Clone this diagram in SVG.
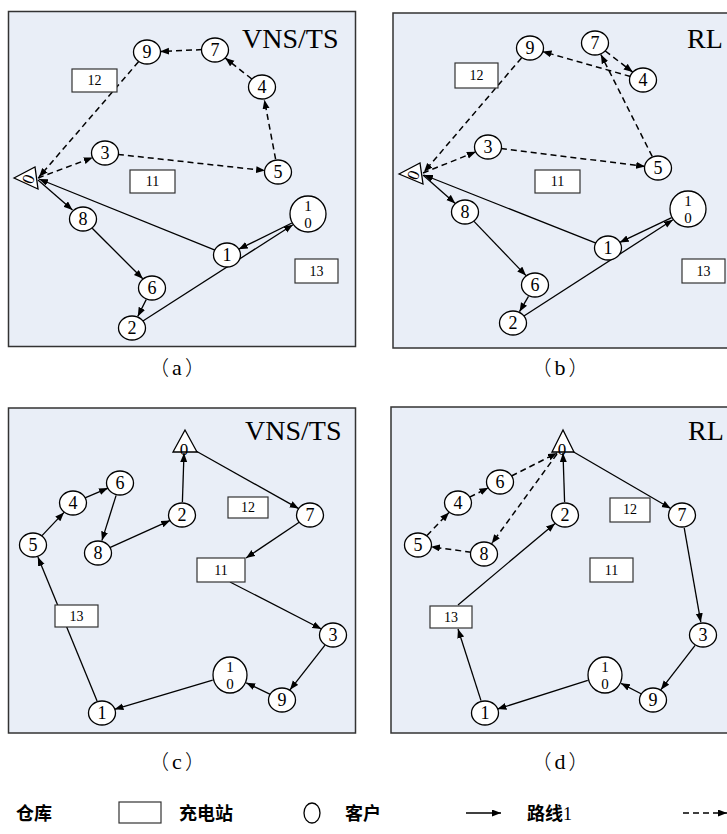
<svg xmlns="http://www.w3.org/2000/svg" width="727" height="834" viewBox="0 0 727 834">
<style>
.frame{fill:#E9EEF7;stroke:#333;stroke-width:1.5}
.nd{fill:#fff;stroke:#000;stroke-width:1.3}
.bx{fill:#fff;stroke:#333;stroke-width:1.2}
.lbl{font-family:"Liberation Serif",serif;font-size:18px;text-anchor:middle;fill:#000}
.l10{font-family:"Liberation Serif",serif;font-size:15px;text-anchor:middle;fill:#000}
.dep{font-family:"Liberation Serif",serif;font-size:17px;text-anchor:middle;fill:#000}
.blbl{font-family:"Liberation Serif",serif;font-size:14px;text-anchor:middle;fill:#000}
.ttl{font-family:"Liberation Serif",serif;font-size:28px;fill:#000}
.cap{font-family:"Liberation Serif",serif;font-size:22px;text-anchor:middle;fill:#000}
.par{font-family:"Noto Sans CJK SC","Noto Sans CJK JP",sans-serif;font-weight:300;font-size:20px}
.leg{font-family:"Noto Sans CJK SC",sans-serif;font-size:18px;font-weight:700;fill:#000}
.sol{stroke:#000;stroke-width:1.3;fill:none;marker-end:url(#ah)}
.dsh{stroke:#000;stroke-width:1.5;stroke-dasharray:6 4;fill:none;marker-end:url(#ah)}
</style>
<defs>
<marker id="ah" markerUnits="userSpaceOnUse" markerWidth="10" markerHeight="8" refX="9" refY="3.5" orient="auto"><path d="M0,0 L9,3.5 L0,7 z" fill="#000"/></marker>
</defs>

<!-- frames -->
<g id="frames">
<rect class="frame" x="8.5" y="11.5" width="347" height="335"/>
<rect class="frame" x="393" y="13" width="360" height="335"/>
<rect class="frame" x="8.5" y="408" width="347" height="325"/>
<rect class="frame" x="391" y="407" width="360" height="326"/>
</g>

<!-- connectors -->
<g id="connectors">
<!-- panel a -->
<path class="dsh" d="M38,178 L92.8,157.5"/>
<path class="dsh" d="M117.9,154.4 L265.1,170.6"/>
<path class="dsh" d="M275.6,159.2 L264.4,99.8"/>
<path class="dsh" d="M251.8,79 L225.2,58"/>
<path class="dsh" d="M202,49.6 L160,51.6"/>
<path class="dsh" d="M138.5,61.8 L39,177"/>
<path class="sol" d="M38,180 L72.5,210"/>
<path class="sol" d="M92.2,228.2 L142.8,278.8"/>
<path class="sol" d="M146.2,299.6 L137.8,316.4"/>
<path class="sol" d="M142.9,321 L292.9,224.7"/>
<path class="sol" d="M291.9,223 L238.7,249.2"/>
<path class="sol" d="M215,250.1 L39,179"/>
<!-- panel b -->
<path class="dsh" d="M423,173 L475.9,151.8"/>
<path class="dsh" d="M500.9,148.6 L645.1,166.4"/>
<path class="dsh" d="M652.2,156.4 L600.9,54.6"/>
<path class="dsh" d="M605.3,51 L632.7,72.1"/>
<path class="dsh" d="M630.5,76.5 L542.5,51.5"/>
<path class="dsh" d="M521.5,57.9 L424,172"/>
<path class="sol" d="M423,175 L455.3,203.4"/>
<path class="sol" d="M474,221.4 L526,275.6"/>
<path class="sol" d="M528.5,296.3 L519.5,311.7"/>
<path class="sol" d="M523.9,316 L672.9,219.8"/>
<path class="sol" d="M671.7,217.7 L619.7,242.4"/>
<path class="sol" d="M596,243.2 L424,175"/>
<!-- panel c -->
<path class="sol" d="M196,451 L298.7,508.6"/>
<path class="sol" d="M299.2,522.3 L246,558"/>
<path class="sol" d="M230,582 L321.4,629"/>
<path class="sol" d="M325,645.2 L290,689.8"/>
<path class="sol" d="M270.3,694.4 L246.2,682.8"/>
<path class="sol" d="M212.7,680.1 L114.5,709.3"/>
<path class="sol" d="M97.1,701 L37.9,557"/>
<path class="sol" d="M42,535.6 L64,512.4"/>
<path class="sol" d="M85,497.9 L108,488.1"/>
<path class="sol" d="M116.1,495.4 L101.9,540.6"/>
<path class="sol" d="M109.8,547.6 L170.2,520.4"/>
<path class="sol" d="M182.4,502 L184,453"/>
<!-- panel d -->
<path class="sol" d="M572,451 L670.8,508.5"/>
<path class="sol" d="M684.2,527.8 L700.8,622.2"/>
<path class="sol" d="M695.1,645.3 L660.9,689.7"/>
<path class="sol" d="M641.5,694 L621,683.3"/>
<path class="sol" d="M587.8,680.4 L497.4,709.1"/>
<path class="sol" d="M481,700.6 L458,629"/>
<path class="sol" d="M458,605 L555,523.4"/>
<path class="sol" d="M564.6,502 L563,453"/>
<path class="dsh" d="M557,454 L491.7,543.5"/>
<path class="dsh" d="M471.1,552.2 L430.9,546.8"/>
<path class="dsh" d="M427,535.6 L449,512.4"/>
<path class="dsh" d="M469.6,497.2 L488.4,487.8"/>
<path class="dsh" d="M511.5,476 L557,453"/>
</g>

<!-- panel a nodes -->
<g id="a-title"><text class="ttl" x="242" y="48">VNS/TS</text></g>
<g id="a-depot"><polygon class="nd" points="14,178 35,167 38,189"/><text class="dep" transform="translate(28,179) rotate(-70)" y="6">0</text></g>
<g id="a-s12"><rect class="bx" x="72" y="69" width="45" height="23"/><text class="blbl" x="94.5" y="85">12</text></g>
<g id="a-s11"><rect class="bx" x="130" y="170" width="45" height="23"/><text class="blbl" x="152.5" y="186">11</text></g>
<g id="a-s13"><rect class="bx" x="295" y="259" width="43" height="24"/><text class="blbl" x="316.5" y="276">13</text></g>
<g id="a-c3"><ellipse class="nd" cx="105" cy="153" rx="13.5" ry="12"/><text class="lbl" x="105" y="159">3</text></g>
<g id="a-c5"><ellipse class="nd" cx="278" cy="172" rx="13.5" ry="12"/><text class="lbl" x="278" y="178">5</text></g>
<g id="a-c4"><ellipse class="nd" cx="262" cy="87" rx="13.5" ry="12"/><text class="lbl" x="262" y="93">4</text></g>
<g id="a-c7"><ellipse class="nd" cx="215" cy="50" rx="13.5" ry="12"/><text class="lbl" x="215" y="56">7</text></g>
<g id="a-c9"><ellipse class="nd" cx="147" cy="52" rx="13.5" ry="12"/><text class="lbl" x="147" y="58">9</text></g>
<g id="a-c8"><ellipse class="nd" cx="83" cy="219" rx="13.5" ry="12"/><text class="lbl" x="83" y="225">8</text></g>
<g id="a-c6"><ellipse class="nd" cx="152" cy="288" rx="13.5" ry="12"/><text class="lbl" x="152" y="294">6</text></g>
<g id="a-c2"><ellipse class="nd" cx="132" cy="328" rx="13.5" ry="12"/><text class="lbl" x="132" y="334">2</text></g>
<g id="a-c1"><ellipse class="nd" cx="227" cy="255" rx="13.5" ry="12"/><text class="lbl" x="227" y="261">1</text></g>
<g id="a-c10"><ellipse class="nd" cx="308" cy="214" rx="18" ry="18"/><text class="l10" x="308" y="211">1</text><text class="l10" x="308" y="228">0</text></g>

<!-- panel b nodes -->
<g id="b-title"><text class="ttl" x="687" y="48">RL</text></g>
<g id="b-depot"><polygon class="nd" points="399,174 420,163 423,184"/><text class="dep" transform="translate(413,175) rotate(-70)" y="6">0</text></g>
<g id="b-s12"><rect class="bx" x="455" y="63" width="43" height="25"/><text class="blbl" x="476.5" y="80">12</text></g>
<g id="b-s11"><rect class="bx" x="535" y="170" width="45" height="23"/><text class="blbl" x="557.5" y="186">11</text></g>
<g id="b-s13"><rect class="bx" x="682" y="259" width="43" height="24"/><text class="blbl" x="703.5" y="276">13</text></g>
<g id="b-c3"><ellipse class="nd" cx="488" cy="147" rx="13.5" ry="12"/><text class="lbl" x="488" y="153">3</text></g>
<g id="b-c5"><ellipse class="nd" cx="658" cy="168" rx="13.5" ry="12"/><text class="lbl" x="658" y="174">5</text></g>
<g id="b-c7"><ellipse class="nd" cx="595" cy="43" rx="13.5" ry="12"/><text class="lbl" x="595" y="49">7</text></g>
<g id="b-c4"><ellipse class="nd" cx="643" cy="80" rx="13.5" ry="12"/><text class="lbl" x="643" y="86">4</text></g>
<g id="b-c9"><ellipse class="nd" cx="530" cy="48" rx="13.5" ry="12"/><text class="lbl" x="530" y="54">9</text></g>
<g id="b-c8"><ellipse class="nd" cx="465" cy="212" rx="13.5" ry="12"/><text class="lbl" x="465" y="218">8</text></g>
<g id="b-c6"><ellipse class="nd" cx="535" cy="285" rx="13.5" ry="12"/><text class="lbl" x="535" y="291">6</text></g>
<g id="b-c2"><ellipse class="nd" cx="513" cy="323" rx="13.5" ry="12"/><text class="lbl" x="513" y="329">2</text></g>
<g id="b-c1"><ellipse class="nd" cx="608" cy="248" rx="13.5" ry="12"/><text class="lbl" x="608" y="254">1</text></g>
<g id="b-c10"><ellipse class="nd" cx="688" cy="209" rx="18" ry="18"/><text class="l10" x="688" y="206">1</text><text class="l10" x="688" y="223">0</text></g>

<!-- panel c nodes -->
<g id="c-title"><text class="ttl" x="245" y="440">VNS/TS</text></g>
<g id="c-depot"><polygon class="nd" points="185,430 173,452 197,452"/><text class="dep" x="184" y="455">0</text></g>
<g id="c-s12"><rect class="bx" x="228" y="497" width="40" height="21"/><text class="blbl" x="248" y="512">12</text></g>
<g id="c-s11"><rect class="bx" x="197" y="558" width="48" height="24"/><text class="blbl" x="221" y="575">11</text></g>
<g id="c-s13"><rect class="bx" x="55" y="605" width="43" height="22"/><text class="blbl" x="76.5" y="621">13</text></g>
<g id="c-c7"><ellipse class="nd" cx="310" cy="515" rx="13.5" ry="12"/><text class="lbl" x="310" y="521">7</text></g>
<g id="c-c3"><ellipse class="nd" cx="333" cy="635" rx="13.5" ry="12"/><text class="lbl" x="333" y="641">3</text></g>
<g id="c-c9"><ellipse class="nd" cx="282" cy="700" rx="13.5" ry="12"/><text class="lbl" x="282" y="706">9</text></g>
<g id="c-c1"><ellipse class="nd" cx="102" cy="713" rx="13.5" ry="12"/><text class="lbl" x="102" y="719">1</text></g>
<g id="c-c5"><ellipse class="nd" cx="33" cy="545" rx="13.5" ry="12"/><text class="lbl" x="33" y="551">5</text></g>
<g id="c-c4"><ellipse class="nd" cx="73" cy="503" rx="13.5" ry="12"/><text class="lbl" x="73" y="509">4</text></g>
<g id="c-c6"><ellipse class="nd" cx="120" cy="483" rx="13.5" ry="12"/><text class="lbl" x="120" y="489">6</text></g>
<g id="c-c8"><ellipse class="nd" cx="98" cy="553" rx="13.5" ry="12"/><text class="lbl" x="98" y="559">8</text></g>
<g id="c-c2"><ellipse class="nd" cx="182" cy="515" rx="13.5" ry="12"/><text class="lbl" x="182" y="521">2</text></g>
<g id="c-c10"><ellipse class="nd" cx="230" cy="675" rx="17" ry="18"/><text class="l10" x="230" y="672">1</text><text class="l10" x="230" y="689">0</text></g>

<!-- panel d nodes -->
<g id="d-title"><text class="ttl" x="688" y="440">RL</text></g>
<g id="d-depot"><polygon class="nd" points="563,430 552,452 574,452"/><text class="dep" x="562" y="455">0</text></g>
<g id="d-s12"><rect class="bx" x="610" y="498" width="40" height="24"/><text class="blbl" x="630" y="514">12</text></g>
<g id="d-s11"><rect class="bx" x="590" y="558" width="43" height="24"/><text class="blbl" x="611.5" y="575">11</text></g>
<g id="d-s13"><rect class="bx" x="430" y="606" width="42" height="22"/><text class="blbl" x="451" y="622">13</text></g>
<g id="d-c7"><ellipse class="nd" cx="682" cy="515" rx="13.5" ry="12"/><text class="lbl" x="682" y="521">7</text></g>
<g id="d-c3"><ellipse class="nd" cx="703" cy="635" rx="13.5" ry="12"/><text class="lbl" x="703" y="641">3</text></g>
<g id="d-c9"><ellipse class="nd" cx="653" cy="700" rx="13.5" ry="12"/><text class="lbl" x="653" y="706">9</text></g>
<g id="d-c1"><ellipse class="nd" cx="485" cy="713" rx="13.5" ry="12"/><text class="lbl" x="485" y="719">1</text></g>
<g id="d-c2"><ellipse class="nd" cx="565" cy="515" rx="13.5" ry="12"/><text class="lbl" x="565" y="521">2</text></g>
<g id="d-c6"><ellipse class="nd" cx="500" cy="482" rx="13.5" ry="12"/><text class="lbl" x="500" y="488">6</text></g>
<g id="d-c4"><ellipse class="nd" cx="458" cy="503" rx="13.5" ry="12"/><text class="lbl" x="458" y="509">4</text></g>
<g id="d-c5"><ellipse class="nd" cx="418" cy="545" rx="13.5" ry="12"/><text class="lbl" x="418" y="551">5</text></g>
<g id="d-c8"><ellipse class="nd" cx="484" cy="554" rx="13.5" ry="12"/><text class="lbl" x="484" y="560">8</text></g>
<g id="d-c10"><ellipse class="nd" cx="605" cy="675" rx="17" ry="18"/><text class="l10" x="605" y="672">1</text><text class="l10" x="605" y="689">0</text></g>

<!-- captions -->
<g id="captions">
<text class="cap" x="177" y="375"><tspan class="par">（</tspan><tspan dx="3">a</tspan><tspan class="par" dx="3">）</tspan></text>
<text class="cap" x="560" y="375"><tspan class="par">（</tspan><tspan dx="3">b</tspan><tspan class="par" dx="3">）</tspan></text>
<text class="cap" x="177" y="769"><tspan class="par">（</tspan><tspan dx="3">c</tspan><tspan class="par" dx="3">）</tspan></text>
<text class="cap" x="560" y="769"><tspan class="par">（</tspan><tspan dx="3">d</tspan><tspan class="par" dx="3">）</tspan></text>
</g>

<!-- legend -->
<g id="legend">
<text class="leg" x="16" y="820">仓库</text>
<rect class="bx" x="119" y="802" width="42" height="21"/>
<text class="leg" x="179" y="820">充电站</text>
<ellipse class="nd" cx="312" cy="813" rx="8" ry="10"/>
<text class="leg" x="345" y="820">客户</text>
<path class="sol" d="M466,813 L501,813"/>
<text class="leg" x="527" y="820">路线<tspan font-family="Liberation Serif" font-weight="400">1</tspan></text>
<path class="dsh" d="M683,813 L727,813"/>
</g>
</svg>
